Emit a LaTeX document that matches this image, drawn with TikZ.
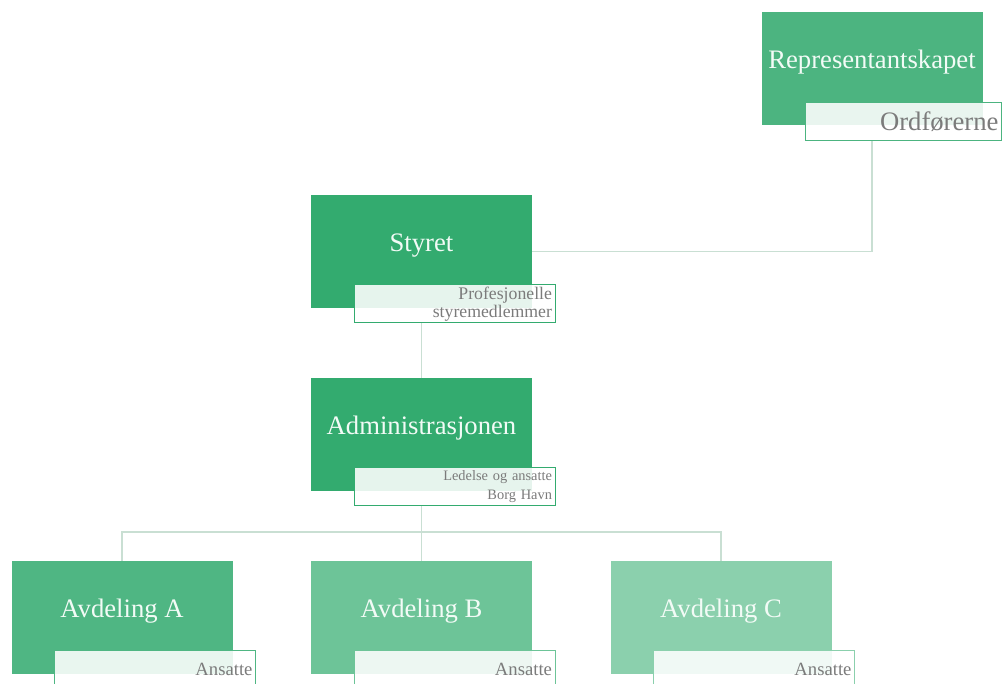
\documentclass[tikz,border=0pt]{standalone}
\usepackage{fontspec}
\setmainfont{Liberation Serif}
\usetikzlibrary{positioning}
\definecolor{boardgreen}{HTML}{33AB6F}
\definecolor{repgreen}{HTML}{4CB480}
\definecolor{avdAgreen}{HTML}{4FB683}
\definecolor{avdBgreen}{HTML}{6DC498}
\definecolor{avdCgreen}{HTML}{8BD0AD}
\definecolor{connline}{HTML}{C9DFD3}
\definecolor{subgrey}{HTML}{7B7B7B}
\definecolor{mainwhite}{HTML}{F2FBF6}
\newcommand{\bigfont}{\fontsize{20}{24}\selectfont}
\newcommand{\midfont}{\fontsize{13.3}{13.5}\selectfont}
\newcommand{\smallfont}{\fontsize{10.8}{14.25}\selectfont}
\newcommand{\ansfont}{\fontsize{14}{16}\selectfont}

\begin{document}
\begin{tikzpicture}[x=0.75pt, y=-0.75pt,
mainbox/.style={rectangle, minimum width=165.75pt, minimum height=84.75pt, inner sep=0pt,
	text=mainwhite, font=\bigfont, text height=14pt, text depth=14pt},
subbox/.style={rectangle, draw=#1, line width=0.9pt, fill=white, fill opacity=0.88,
	text opacity=1, text=subgrey, anchor=north west, minimum height=28.5pt,
	inner xsep=2.5pt, inner ysep=1pt, text width=145.75pt, align=right},
conn/.style={draw=connline, line width=1.2pt}]
\useasboundingbox (0,0) rectangle (1002,684);

%top of the chart
\node[mainbox, fill=repgreen] (rep) at (872,68.5) {Representantskapet};
\node[subbox=repgreen, text width=142pt, font=\bigfont] (repsub)
	at ([xshift=33pt, yshift=17.25pt]rep.south west) {Ordførerne};

\node[mainbox, fill=boardgreen] (styret) at (421.5,251.5) {Styret};
\node[subbox=boardgreen, font=\midfont] (styretsub)
	at ([xshift=32.25pt, yshift=18pt]styret.south west) {Profesjonelle\\styremedlemmer};

\node[mainbox, fill=boardgreen] (admin) at (421.5,434.5) {Administrasjonen};
\node[subbox=boardgreen, font=\smallfont] (adminsub)
	at ([xshift=32.25pt, yshift=18pt]admin.south west) {Ledelse og ansatte\\Borg Havn};

%departments
\foreach \id/\x/\col in {A/122/avdAgreen, B/421.5/avdBgreen, C/721/avdCgreen}{
	\node[mainbox, fill=\col] (avd\id) at (\x,617.5) {Avdeling \id};
	\node[subbox=\col, font=\ansfont] (avd\id sub)
		at ([xshift=32.25pt, yshift=18pt]avd\id.south west) {Ansatte};
}

%connectors
\coordinate (bus) at (421.5,532);
\draw[conn] (rep.center |- repsub.south) |- (styret.east);
\draw[conn] (styret.center |- styretsub.south) -- (admin.north);
\draw[conn] (admin.center |- adminsub.south) -- (bus);
\foreach \id in {A,B,C}
	\draw[conn] (bus) -| (avd\id.north);
\end{tikzpicture}
\end{document}
